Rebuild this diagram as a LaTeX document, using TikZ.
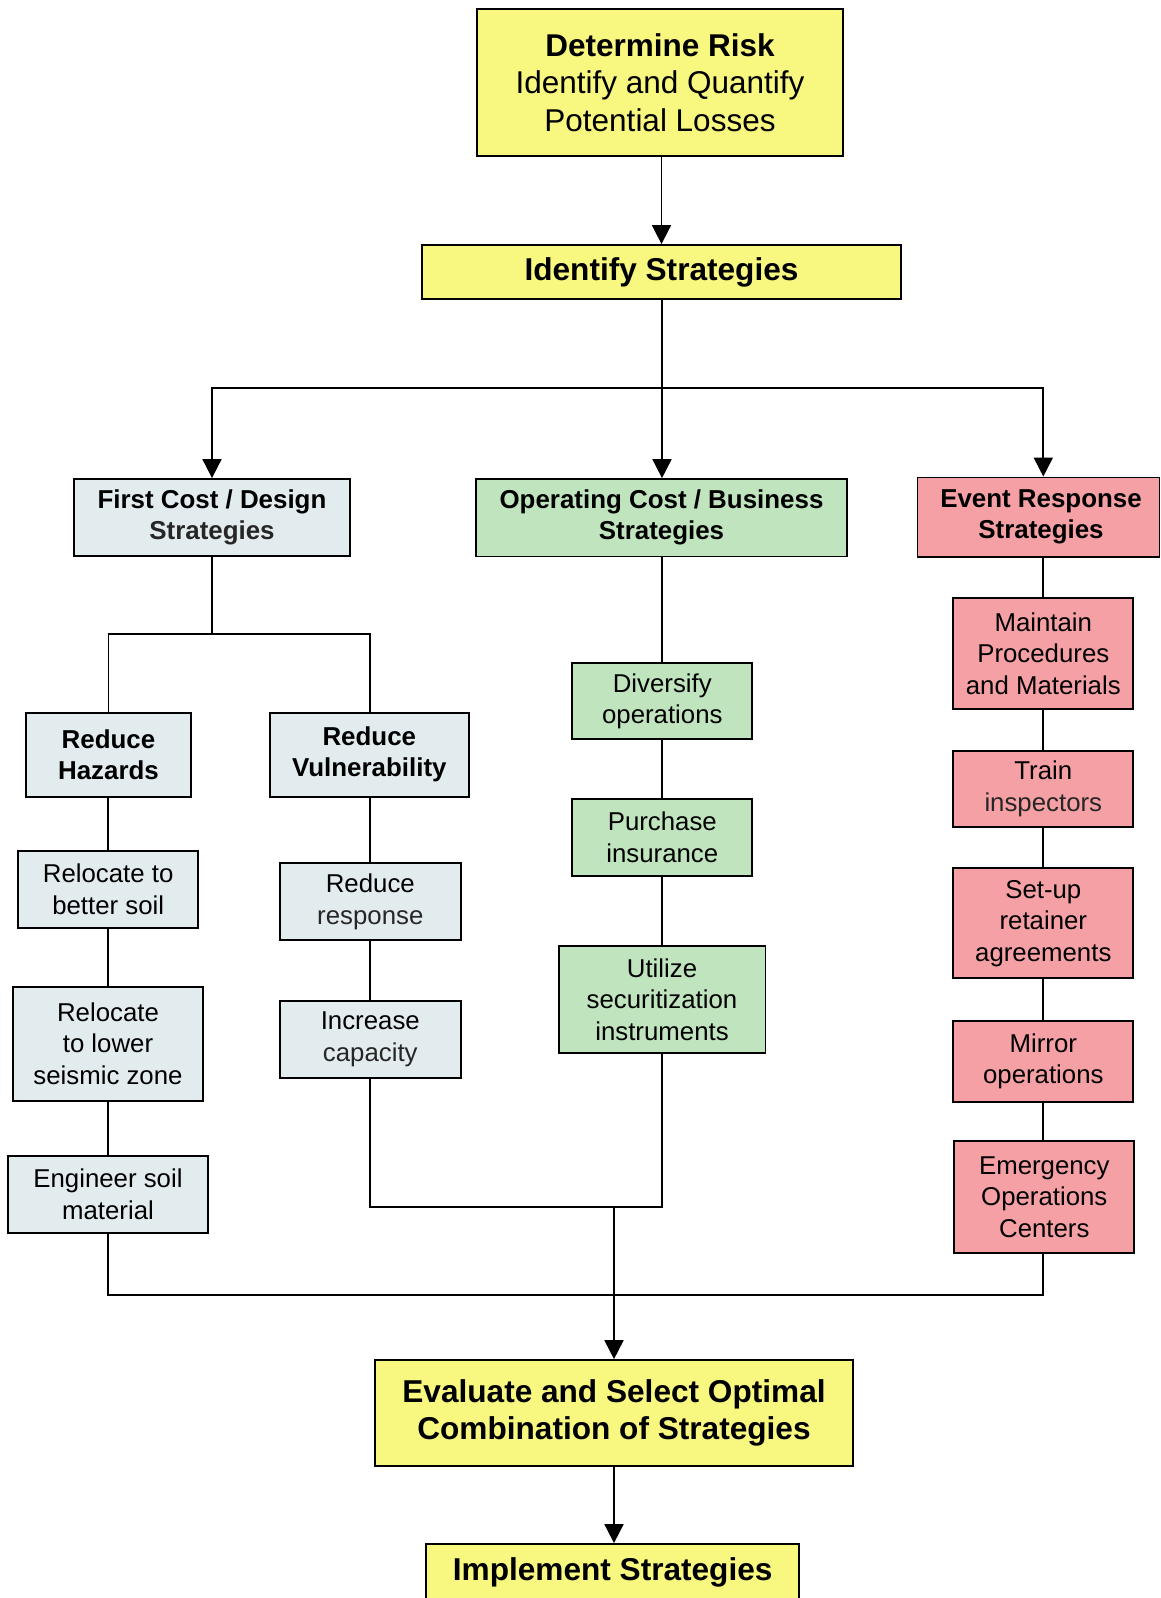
\documentclass[tikz,border=0pt]{standalone}
\usepackage{fontspec}
\setmainfont{Liberation Sans}
\usetikzlibrary{arrows.meta}
\definecolor{yel}{RGB}{248,247,128}
\definecolor{blu}{RGB}{226,236,239}
\definecolor{grn}{RGB}{192,228,190}
\definecolor{pnk}{RGB}{245,160,164}
\definecolor{dgray}{RGB}{38,38,38}
\tikzset{
  box/.style={draw=black, line width=1.8pt, inner sep=0pt, align=center, anchor=center},
  bigb/.style={box, fill=yel, font=\fontsize{31.6}{37.5}\selectfont\bfseries},
  smb/.style={box, font=\fontsize{25.9}{31}\selectfont\bfseries},
  reg/.style={box, font=\fontsize{25.8}{31.5}\selectfont},
  fcb/.style={fill=blu},
  ocb/.style={fill=grn},
  erb/.style={fill=pnk},
  conn/.style={line width=1.8pt, draw=black},
  arr/.style={conn, -{Triangle[length=19pt, width=19pt]}},
}
\begin{document}
\begin{tikzpicture}[x=1pt, y=-1pt]
\useasboundingbox (0,0) rectangle (1160,1598);
% top
\node[box, fill=yel, minimum width=366pt, minimum height=147pt, font=\fontsize{31.5}{37.5}\selectfont] (DR) at (660,82.5)
  {\textbf{Determine Risk}\\Identify and Quantify\\Potential Losses};
\node[bigb, minimum width=479pt, minimum height=54pt] (IS) at (661.5,272) {Identify Strategies};
% level 2
\node[smb, fcb, minimum width=276pt, minimum height=77pt] (FC) at (212,517.5) {First Cost / Design\\\textcolor{dgray}{Strategies}};
\node[smb, ocb, minimum width=371.5pt, minimum height=77.5pt] (OC) at (661.5,517.8) {Operating Cost / Business\\Strategies};
\node[smb, erb, minimum width=242pt, minimum height=79.5pt] (ER) at (1038.5,517.2) {\hspace*{5pt}Event Response\\\hspace*{5pt}Strategies};
% first cost column
\node[smb, fcb, minimum width=165pt, minimum height=84pt] (RH) at (108.5,754.7) {Reduce\\Hazards};
\node[smb, fcb, minimum width=198.7pt, minimum height=84pt] (RV) at (369.3,754.7) {Reduce\\Vulnerability};
\node[reg, fcb, minimum width=180.3pt, minimum height=77pt] (RBS) at (108.2,889.2) {Relocate to\\better soil};
\node[reg, fcb, minimum width=189.4pt, minimum height=114pt] (RLZ) at (108,1043.7) {Relocate\\to lower\\seismic zone};
\node[reg, fcb, minimum width=199.4pt, minimum height=76.7pt] (ESM) at (108,1194.3) {Engineer soil\\material};
\node[reg, fcb, minimum width=180.7pt, minimum height=76.7pt] (RR) at (370.3,901.7) {Reduce\\\textcolor{dgray}{response}};
\node[reg, fcb, minimum width=180.7pt, minimum height=77pt] (IC) at (370.3,1039.2) {Increase\\\textcolor{dgray}{capacity}};
% operating column
\node[reg, ocb, minimum width=180pt, minimum height=76pt] (DO) at (662.3,701.3) {Diversify\\operations};
\node[reg, ocb, minimum width=180pt, minimum height=77pt] (PI) at (662.3,837.2) {Purchase\\insurance};
\node[reg, ocb, minimum width=206.8pt, minimum height=107.3pt] (USI) at (662,999.3) {Utilize\\securitization\\instruments};
% event response column
\node[reg, erb, minimum width=180pt, minimum height=111.3pt] (MPM) at (1043.3,653.3) {Maintain\\Procedures\\and Materials};
\node[reg, erb, minimum width=180pt, minimum height=76.6pt] (TI) at (1043.3,789) {Train\\\textcolor{dgray}{inspectors}};
\node[reg, erb, minimum width=180pt, minimum height=110pt] (SRA) at (1043.3,923.3) {Set-up\\retainer\\agreements};
\node[reg, erb, minimum width=180pt, minimum height=81.6pt] (MO) at (1043.3,1061.5) {Mirror\\operations};
\node[reg, erb, minimum width=180pt, minimum height=112.3pt] (EOC) at (1044.3,1196.9) {Emergency\\Operations\\Centers};
% bottom
\node[bigb, minimum width=478.6pt, minimum height=105.7pt] (EV) at (614,1412.9) {Evaluate and Select Optimal\\Combination of Strategies};
\node[bigb, minimum width=373.3pt, minimum height=56pt] (IM) at (612.7,1572) {Implement Strategies};
% junction coordinates
\coordinate (J1) at (662,388);
\coordinate (J2) at (212,634);
\coordinate (J3) at (614,1206.7);
\coordinate (J4) at (614,1295);
% connectors
\draw[arr] (DR.south -| IS.north) -- (IS.north);
\draw[conn] (IS.south -| J1) -- (J1);
\draw[arr] (J1) -| (FC.north);
\draw[arr] (J1) -- (J1 |- OC.north);
\draw[arr] (J1) -| (MPM.north |- ER.north);
\draw[conn] (FC.south) -- (J2);
\draw[conn] (J2) -| (RH.north);
\draw[conn] (J2) -| (RV.north -| RR.north);
\draw[conn] (RH.south -| RBS.north) -- (RBS.north);
\draw[conn] (RBS.south) -- (RLZ.north -| RBS.south);
\draw[conn] (RLZ.south) -- (ESM.north);
\draw[conn] (ESM.south) |- (J4) -| (EOC.south -| MPM.south);
\draw[conn] (RV.south -| RR.north) -- (RR.north);
\draw[conn] (RR.south) -- (IC.north);
\draw[conn] (IC.south) |- (J3) -| (USI.south);
\draw[conn] (OC.south -| DO.north) -- (DO.north);
\draw[conn] (DO.south) -- (PI.north);
\draw[conn] (PI.south) -- (PI.south |- USI.north);
\draw[conn] (MPM.north |- ER.south) -- (MPM.north);
\draw[conn] (MPM.south) -- (TI.north);
\draw[conn] (TI.south) -- (SRA.north);
\draw[conn] (SRA.south) -- (MO.north);
\draw[conn] (MO.south) -- (MO.south |- EOC.north);
\draw[arr] (J3) -- (EV.north);
\draw[arr] (EV.south) -- (EV.south |- IM.north);
\end{tikzpicture}
\end{document}
